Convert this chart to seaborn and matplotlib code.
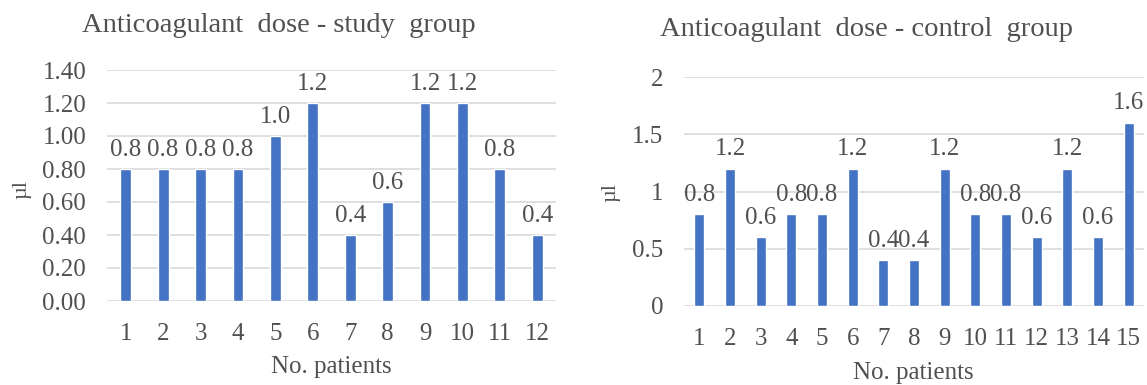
import matplotlib
matplotlib.use("Agg")
import matplotlib.pyplot as plt
import seaborn as sns
import pandas as pd

# Anticoagulant dose per patient (µl)
study_patients = list(range(1, 13))
study_dose = [0.8, 0.8, 0.8, 0.8, 1.0, 1.2, 0.4, 0.6, 1.2, 1.2, 0.8, 0.4]

control_patients = list(range(1, 16))
control_dose = [0.8, 1.2, 0.6, 0.8, 0.8, 1.2, 0.4, 0.4, 1.2, 0.8, 0.8, 0.6, 1.2, 0.6, 1.6]

study_yticks = [0.0, 0.2, 0.4, 0.6, 0.8, 1.0, 1.2, 1.4]
study_yticklabels = ["0.00", "0.20", "0.40", "0.60", "0.80", "1.00", "1.20", "1.40"]
control_yticks = [0, 0.5, 1, 1.5, 2]
control_yticklabels = ["0", "0.5", "1", "1.5", "2"]

BAR = "#4472C4"
TXT = "#505050"
GRID = "#D9D9D9"

sns.set_theme(style="white")
plt.rcParams["font.family"] = ["Liberation Serif", "DejaVu Serif"]

W, H = 1147, 385
fig = plt.figure(figsize=(W / 100, H / 100), dpi=100)
fig.patch.set_facecolor("white")


def panel(rect, patients, dose, yticks, yticklabels, width):
    ax = fig.add_axes(rect)
    df = pd.DataFrame({"patient": [str(p) for p in patients], "dose": dose})
    sns.barplot(data=df, x="patient", y="dose", color=BAR, width=width,
                saturation=1, ax=ax, zorder=3)
    ax.set_ylim(yticks[0], yticks[-1])
    ax.set_yticks(yticks)
    ax.set_yticklabels(yticklabels)
    ax.yaxis.grid(True, color=GRID, linewidth=1.2, zorder=0)
    ax.set_axisbelow(True)
    for s in ax.spines.values():
        s.set_visible(False)
    ax.tick_params(axis="y", length=0, pad=15, labelsize=18, labelcolor=TXT)
    ax.tick_params(axis="x", length=0, pad=16, labelsize=18, labelcolor=TXT)
    ax.set_xlabel("")
    ax.set_ylabel("")
    ax.bar_label(ax.containers[0], labels=[f"{v:.1f}" for v in dose],
                 padding=6, fontsize=18, color=TXT)
    return ax


ax1 = panel([107 / W, 1 - 301 / H, 449 / W, 231 / H],
            study_patients, study_dose, study_yticks, study_yticklabels, 0.29)
ax2 = panel([684 / W, 1 - 306 / H, 460 / W, 229 / H],
            control_patients, control_dose, control_yticks, control_yticklabels, 0.33)

# titles
fig.text(279 / W, 1 - 25 / H, "Anticoagulant  dose - study  group",
         ha="center", va="center", fontsize=20.5, color=TXT)
fig.text(867 / W, 1 - 30 / H, "Anticoagulant  dose - control  group",
         ha="center", va="center", fontsize=20.5, color=TXT)

# axis titles
fig.text(331 / W, 1 - 367 / H, "No. patients", ha="center", va="center",
         fontsize=18, color=TXT)
fig.text(913 / W, 1 - 373 / H, "No. patients", ha="center", va="center",
         fontsize=18, color=TXT)
fig.text(22 / W, 1 - 190 / H, "µl", ha="center", va="center", rotation=90,
         fontsize=16, color=TXT)
fig.text(611 / W, 1 - 193 / H, "µl", ha="center", va="center", rotation=90,
         fontsize=16, color=TXT)

fig.savefig("out.png", dpi=100, facecolor="white")
